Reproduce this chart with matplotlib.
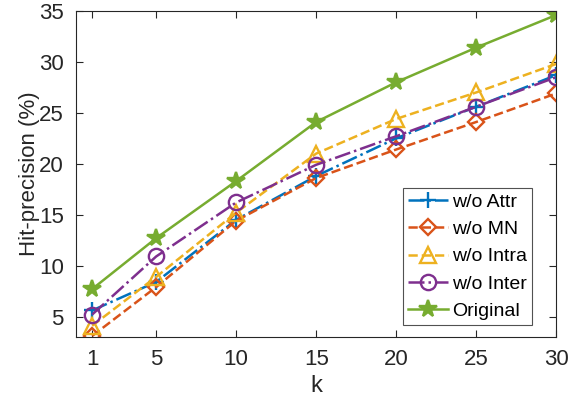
import matplotlib
matplotlib.use("Agg")
import matplotlib.pyplot as plt

plt.rcParams['font.family'] = ['Liberation Sans', 'DejaVu Sans']

k = [1, 5, 10, 15, 20, 25, 30]
wo_attr = [5.6, 8.4, 14.5, 18.8, 22.5, 25.6, 28.7]
wo_mn = [3.1, 7.9, 14.4, 18.6, 21.4, 24.1, 26.9]
wo_intra = [4.1, 8.9, 15.2, 21.0, 24.4, 27.0, 29.8]
wo_inter = [5.2, 10.9, 16.2, 19.9, 22.7, 25.6, 28.5]
original = [7.7, 12.7, 18.3, 24.1, 28.0, 31.4, 34.6]

labels = ['w/o Attr', 'w/o MN', 'w/o Intra', 'w/o Inter', 'Original']
colors = ['#0072BD', '#D95319', '#EDB120', '#7E2F8E', '#77AC30']
styles = ['-.', '--', '--', '-.', '-']
markers = ['+', 'D', '^', 'o', '*']
msizes = [11, 8, 11, 11, 13]

fig = plt.figure(figsize=(5.77, 4.05), dpi=100)
ax = fig.add_axes([0.132, 0.168, 0.832, 0.805])

series = [wo_attr, wo_mn, wo_intra, wo_inter, original]
for y, lab, c, ls, m, ms in zip(series, labels, colors, styles, markers, msizes):
    mfc = c if m == '*' else 'none'
    ax.plot(k, y, linestyle=ls, color=c, marker=m, markersize=ms,
            markerfacecolor=mfc, markeredgecolor=c, markeredgewidth=1.7,
            linewidth=1.8, label=lab)

ax.set_xlim(0, 30)
ax.set_ylim(3, 35)
ax.set_xticks(k)
ax.set_yticks([5, 10, 15, 20, 25, 30, 35])
ax.tick_params(direction='in', top=True, right=True, length=5, width=0.8,
               labelsize=16, colors='#262626', pad=9)
for s in ax.spines.values():
    s.set_color('#262626')
    s.set_linewidth(0.8)
ax.set_xlabel('k', fontsize=17, color='#262626', labelpad=3)
ax.set_ylabel('Hit-precision (%)', fontsize=16, color='#262626', labelpad=-1)

leg = ax.legend(loc='lower right', bbox_to_anchor=(0.95, 0.037), fontsize=14,
                frameon=True, fancybox=False, edgecolor='#262626',
                handlelength=2.1, handletextpad=0.2, labelspacing=0.5,
                borderpad=0.25, borderaxespad=0)
leg.get_frame().set_linewidth(0.8)

fig.savefig('out.png', dpi=100)
